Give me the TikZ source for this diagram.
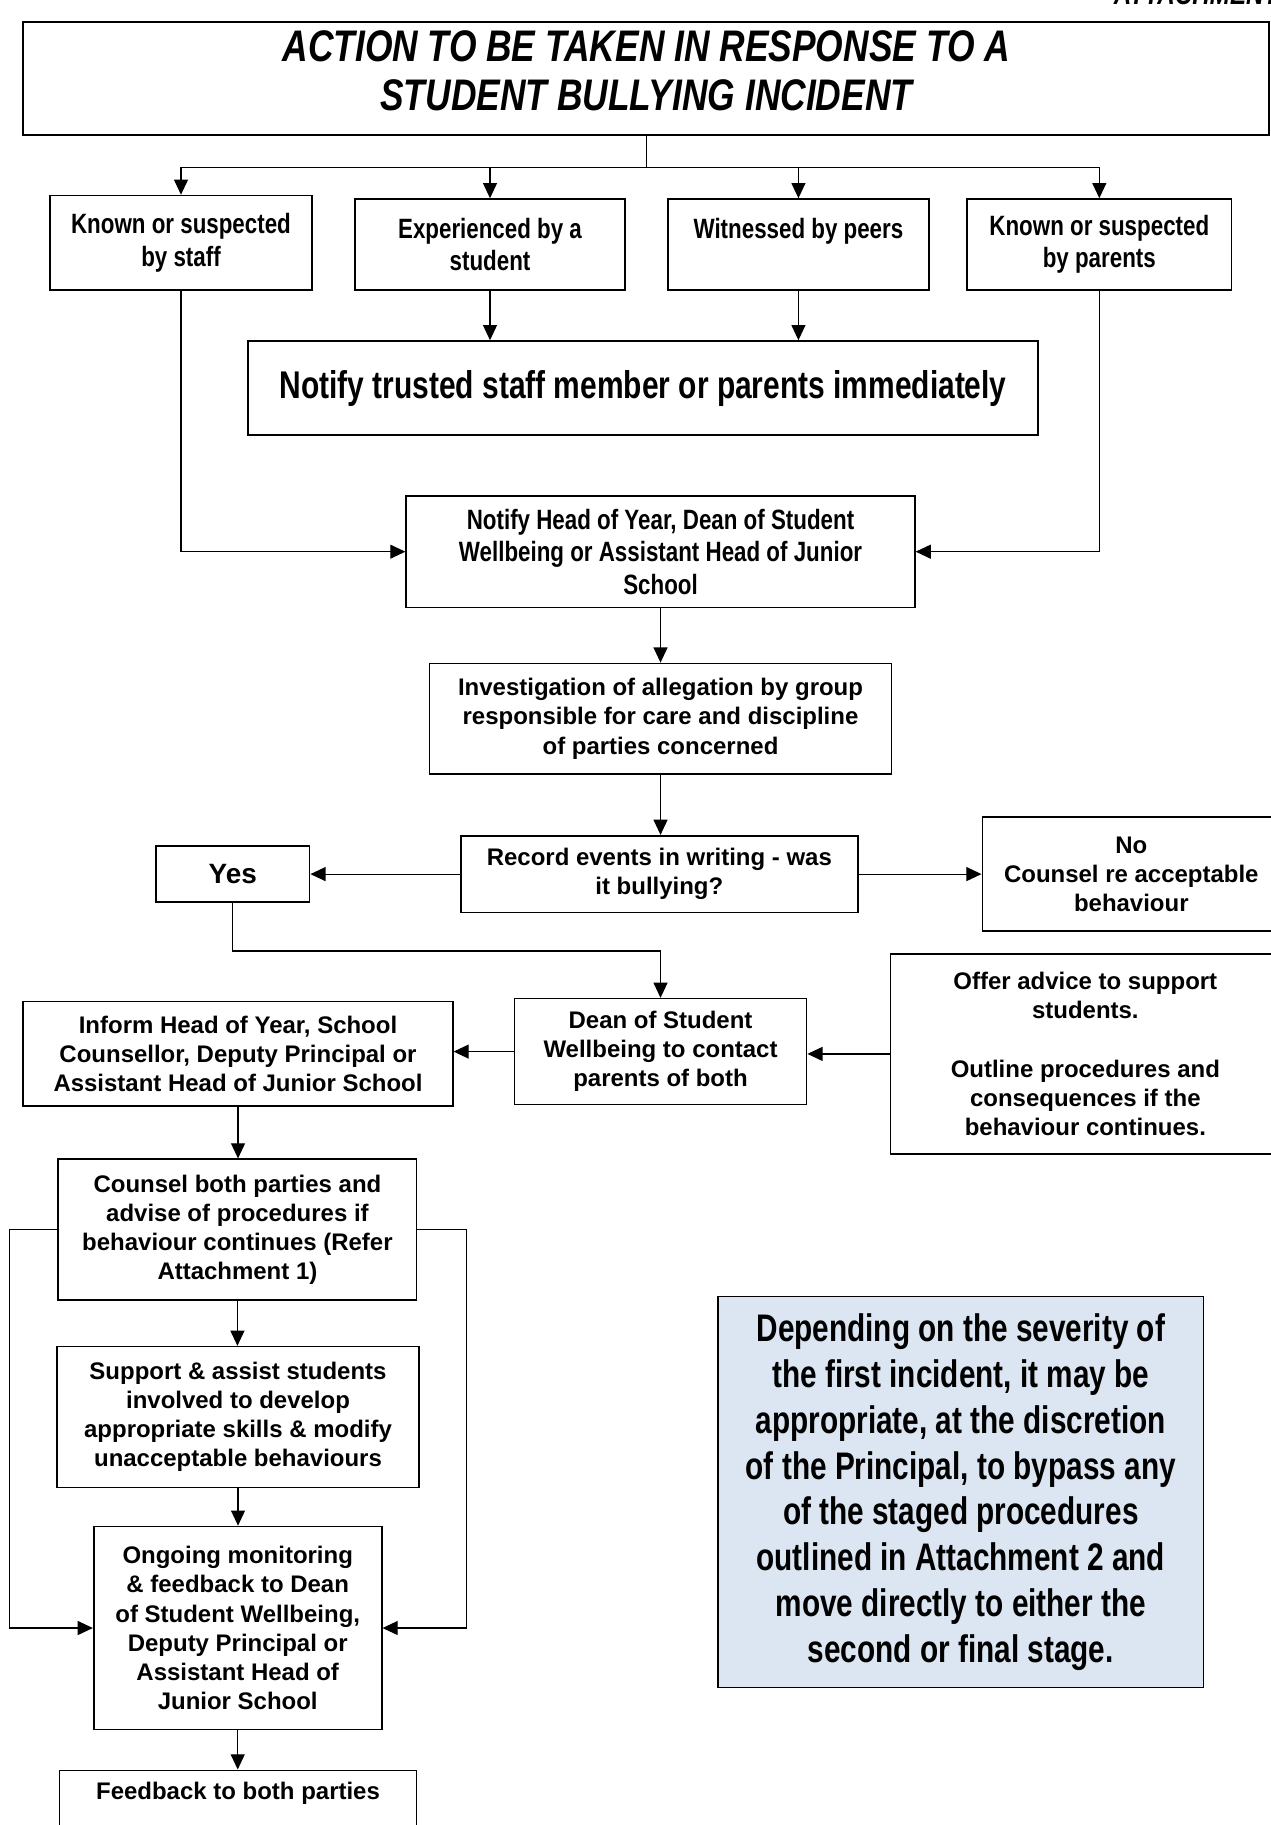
\documentclass[tikz,border=0pt]{standalone}
\usepackage{fontspec}
\setmainfont{Liberation Sans}
\newfontfamily\narrowfont[FakeStretch=0.8]{Liberation Sans}
\newfontfamily\condensedfont[FakeStretch=0.775]{Liberation Sans}
\usetikzlibrary{arrows.meta}
\definecolor{notefill}{RGB}{220,230,242}

\begin{document}
\begin{tikzpicture}[x=0.5pt, y=-0.5pt,
  box/.style={draw, line width=0.7pt, inner sep=0pt, align=center,
    font=\bfseries\fontsize{10.3}{12.5}\selectfont},
  narrowbox/.style={box, font=\narrowfont\bfseries\fontsize{12}{14}\selectfont},
  link/.style={line width=0.5pt, -{Triangle[length=6.5pt, width=6pt]}},
  line/.style={line width=0.5pt}]

  \useasboundingbox (0,0) rectangle (1092,1568);

  % Title
  \node[anchor=base west, font=\narrowfont\bfseries\itshape\fontsize{13}{15}\selectfont] (attach) at (950,4) {ATTACHMENT};
  \node[box, minimum width=535.25pt, minimum height=48.5pt,
    font=\narrowfont\bfseries\itshape\fontsize{19}{21}\selectfont] (title) at (555.25,67.5)
    {ACTION TO BE TAKEN IN RESPONSE TO A\\STUDENT BULLYING INCIDENT\rule[-7pt]{0pt}{7pt}};

  % How it becomes known
  \node[narrowbox, minimum width=112.5pt, minimum height=40.5pt] (staff) at (155.5,208.5) {Known or suspected\\by staff};
  \node[narrowbox, minimum width=116pt, minimum height=39pt] (student) at (421,210) {Experienced by a\\student};
  \node[narrowbox, minimum width=112pt, minimum height=39pt] (peers) at (686,210) {Witnessed by peers\\ \mbox{}};
  \node[narrowbox, minimum width=113.5pt, minimum height=39pt] (parents) at (944.5,210) {Known or suspected\\by parents};

  \node[box, minimum width=339.5pt, minimum height=40.5pt,
    font=\condensedfont\bfseries\fontsize{16.6}{20}\selectfont] (trusted) at (552.5,333.5)
    {Notify trusted staff member or parents immediately};

  % Main column
  \node[narrowbox, minimum width=218.5pt, minimum height=48pt] (headyear) at (567.5,474)
    {Notify Head of Year, Dean of Student\\Wellbeing or Assistant Head of Junior\\School};
  \node[box, minimum width=198.5pt, minimum height=47.5pt] (investigate) at (567.5,617.5)
    {Investigation of allegation by group\\responsible for care and discipline\\of parties concerned};
  \node[box, minimum width=170.5pt, minimum height=33pt] (record) at (566.5,751)
    {Record events in writing - was\\it bullying?};
  \node[box, minimum width=66pt, minimum height=24pt, font=\bfseries\fontsize{12}{14}\selectfont] (yes) at (200,751) {Yes};
  \node[box, minimum width=128pt, minimum height=49pt] (no) at (972,751)
    {No\\Counsel re acceptable\\behaviour};

  \node[box, minimum width=125.5pt, minimum height=45.5pt] (dean) at (567.5,903.5)
    {Dean of Student\\Wellbeing to contact\\parents of both};
  \node[box, minimum width=167.5pt, minimum height=86pt] (offer) at (932.5,905.5)
    {Offer advice to support\\students.\\[12.5pt]Outline procedures and\\consequences if the\\behaviour continues.};
  \node[box, minimum width=184.5pt, minimum height=44.75pt] (inform) at (204.5,905.25)
    {Inform Head of Year, School\\Counsellor, Deputy Principal or\\Assistant Head of Junior School};

  % Left column
  \node[box, minimum width=154pt, minimum height=60.5pt] (counsel) at (204,1056.5)
    {Counsel both parties and\\advise of procedures if\\behaviour continues (Refer\\Attachment 1)};
  \node[box, minimum width=155.5pt, minimum height=60.5pt] (support) at (204.5,1217.5)
    {Support \& assist students\\involved to develop\\appropriate skills \& modify\\unacceptable behaviours};
  \node[box, minimum width=123.75pt, minimum height=87.25pt] (ongoing) at (204.25,1398.75)
    {Ongoing monitoring\\\& feedback to Dean\\of Student Wellbeing,\\Deputy Principal or\\Assistant Head of\\Junior School};
  \node[box, minimum width=153.5pt, minimum height=30pt] (feedback) at (204.5,1551)
    {Feedback to both parties\\ \mbox{}};

  % Note
  \node[box, fill=notefill, minimum width=208.5pt, minimum height=168pt,
    font=\condensedfont\bfseries\fontsize{16.5}{19.75}\selectfont] (note) at (825.5,1282)
    {Depending on the severity of\\the first incident, it may be\\appropriate, at the discretion\\of the Principal, to bypass any\\of the staged procedures\\outlined in Attachment 2 and\\move directly to either the\\second or final stage.};

  % Connectors
  \path (title.south) ++(0,27) coordinate (bus);
  \draw[line] (title.south) -- (bus);
  \draw[link] (bus) -| (staff.north);
  \draw[link] (bus) -| (student.north);
  \draw[link] (bus) -| (peers.north);
  \draw[link] (bus) -| (parents.north);

  \draw[link] (student.south) -- (student.south |- trusted.north);
  \draw[link] (peers.south) -- (peers.south |- trusted.north);
  \draw[link] (staff.south) |- (headyear.west);
  \draw[link] (parents.south) |- (headyear.east);

  \draw[link] (headyear.south) -- (investigate.north);
  \draw[link] (investigate.south) -- (investigate.south |- record.north);
  \draw[link] (record.west) -- (yes.east);
  \draw[link] (record.east) -- (no.west);

  \coordinate (yesdrop) at (200,817);
  \draw[link] (yes.south) -- (yesdrop) -| (dean.north);
  \draw[link] (offer.west) -- (offer.west -| dean.east);
  \draw[link] (dean.west) -- (dean.west -| inform.east);

  \draw[link] (inform.south) -- (inform.south |- counsel.north);
  \draw[link] (counsel.south) -- (counsel.south |- support.north);
  \draw[link] (support.south) -- (support.south |- ongoing.north);
  \draw[link] (ongoing.south) -- (ongoing.south |- feedback.north);

  \draw[link] (counsel.west) -- ++(-41,0) |- (ongoing.west);
  \draw[link] (counsel.east) -- ++(42,0) |- (ongoing.east);
\end{tikzpicture}
\end{document}
